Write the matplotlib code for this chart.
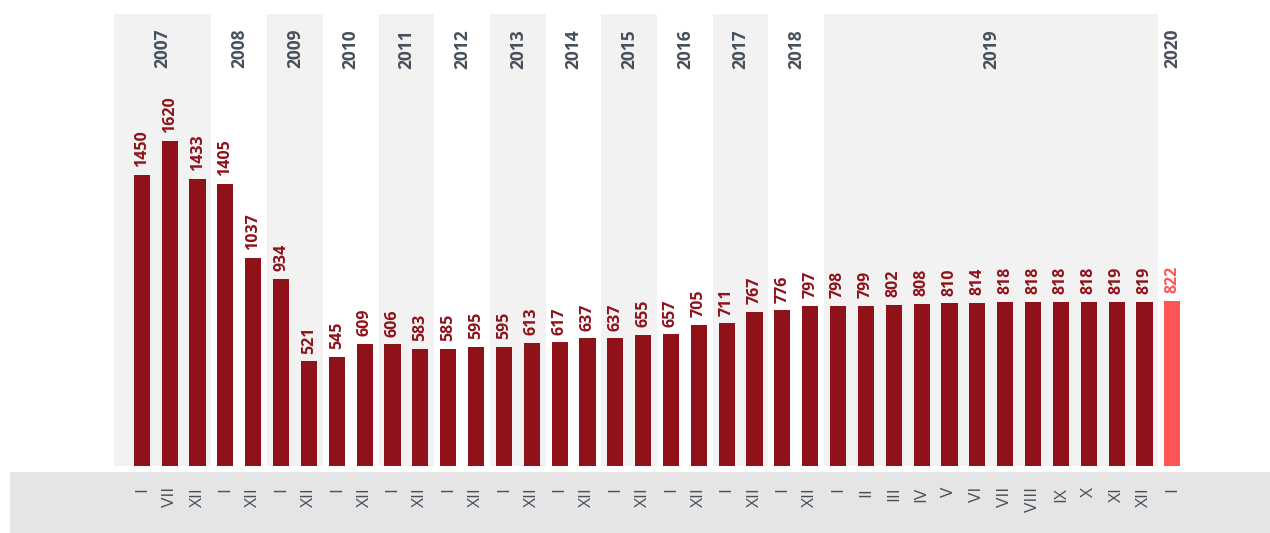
import matplotlib
matplotlib.use('Agg')
import matplotlib.pyplot as plt
from matplotlib.patches import Rectangle

plt.rcParams['font.family'] = ['Open Sans', 'DejaVu Sans']

years = ['2007', '2008', '2009', '2010', '2011', '2012', '2013', '2014',
         '2015', '2016', '2017', '2018', '2019', '2020']
bars_per_year = [3, 2, 2, 2, 2, 2, 2, 2, 2, 2, 2, 2, 12, 1]
months = ['I', 'VII', 'XII',
          'I', 'XII', 'I', 'XII', 'I', 'XII', 'I', 'XII', 'I', 'XII',
          'I', 'XII', 'I', 'XII', 'I', 'XII', 'I', 'XII', 'I', 'XII', 'I', 'XII',
          'I', 'II', 'III', 'IV', 'V', 'VI', 'VII', 'VIII', 'IX', 'X', 'XI', 'XII',
          'I']
values = [1450, 1620, 1433,
          1405, 1037, 934, 521, 545, 609, 606, 583, 585, 595,
          595, 613, 617, 637, 637, 655, 657, 705, 711, 767, 776, 797,
          798, 799, 802, 808, 810, 814, 818, 818, 818, 818, 819, 819,
          822]

dark = '#8f1219'
light = '#ff5555'
text_col = '#46505b'

fig = plt.figure(figsize=(12.7, 5.33), dpi=100)
fig.patches.append(Rectangle((10 / 1270, 0), 1260 / 1270, 61 / 533,
                             transform=fig.transFigure, facecolor='#e5e5e5',
                             edgecolor='none', zorder=-1))
ax = fig.add_axes([114 / 1270, 67 / 533, 1072.2 / 1270, 452 / 533])
ax.set_facecolor('none')
ax.set_zorder(1)

x = list(range(len(values)))
n = len(values)

# year bands
start = 0
for k, (yr, cnt) in enumerate(zip(years, bars_per_year)):
    lo = start - 0.5 if k > 0 else -1.0
    hi = start + cnt - 0.5 if k < len(years) - 1 else n - 0.5
    if k % 2 == 0:
        ax.axvspan(lo, hi, color='#f2f2f2', lw=0, zorder=0)
    ax.text((lo + hi) / 2, 0.967, yr, transform=ax.get_xaxis_transform(),
            rotation=90, ha='center', va='top', fontsize=12.5,
            fontweight='bold', color=text_col)
    start += cnt

colors = [dark] * (n - 1) + [light]
ax.bar(x, values, width=0.58, color=colors, zorder=2)

for xi, v, c in zip(x, values, colors):
    ax.annotate(str(v), (xi, v), xytext=(0, 5.5), textcoords='offset points',
                rotation=90, ha='center', va='bottom', fontsize=11.5,
                fontweight='bold', color=c)

ax.set_xlim(-1, n - 0.5)
ax.set_ylim(0, 2253)
ax.set_yticks([])
ax.set_xticks(x, months, rotation=90, fontsize=12.5, color=text_col)
ax.tick_params(axis='x', length=0, pad=15)
for s in ax.spines.values():
    s.set_visible(False)

fig.savefig('out.png', dpi=100)
